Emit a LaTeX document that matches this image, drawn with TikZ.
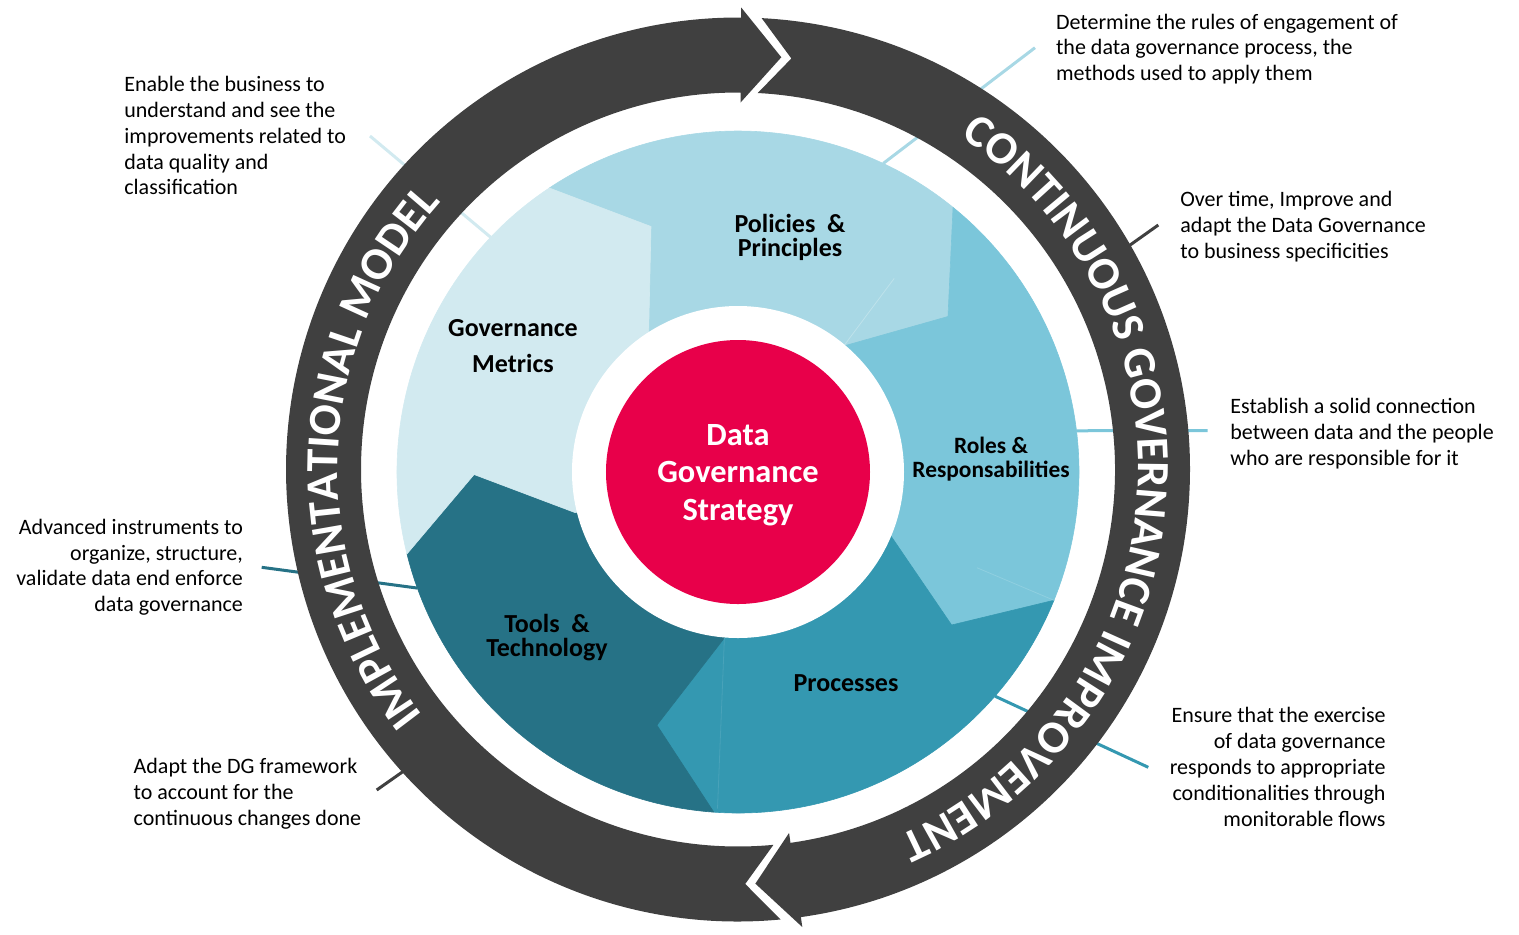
\documentclass[tikz,border=0pt]{standalone}
\usepackage{fontspec}
\setmainfont{Carlito}
\usetikzlibrary{decorations.text}
\definecolor{ringgray}{HTML}{404040}
\definecolor{polcol}{HTML}{A8D8E5}
\definecolor{metcol}{HTML}{D2EAF0}
\definecolor{rolcol}{HTML}{7BC6DA}
\definecolor{procol}{HTML}{3498B1}
\definecolor{toolcol}{HTML}{267286}
\definecolor{dgred}{HTML}{E8004A}
\newcommand\ringfont{\bfseries\fontsize{23}{23}\selectfont}
\begin{document}
\begin{tikzpicture}[x=0.5pt,y=0.5pt,
  seglabel/.style={font=\bfseries\fontsize{13}{12}\selectfont, align=center, text=black, inner sep=0pt},
  desc/.style={font=\fontsize{11}{12.9}\selectfont, inner sep=0pt, text=black},
  conn/.style={line width=1.5pt},
  seam/.style={line width=0.4pt},
  ringtext/.style={decorate, decoration={text along path, text align=center, text color=white, text={|\ringfont|#1}}}
]
\useasboundingbox (-738,-462) rectangle (781,472);

% ---------- description texts (anchored at last baseline) ----------
\node[desc, anchor=base west, align=left] (dPol) at (317.7,391.3) {Determine the rules of engagement of\\the data governance process, the\\methods used to apply them};
\node[desc, anchor=base west, align=left] (dMet) at (-614,277.1) {Enable the business to\\understand and see the\\improvements related to\\data quality and\\classification};
\node[desc, anchor=base west, align=left] (dOver) at (442,213.7) {Over time, Improve and\\adapt the Data Governance\\to business specificities};
\node[desc, anchor=base west, align=left] (dRol) at (492,7) {Establish a solid connection\\between data and the people\\who are responsible for it};
\node[desc, anchor=base east, align=right] (dTool) at (-494.7,-139.7) {Advanced instruments to\\organize, structure,\\validate data end enforce\\data governance};
\node[desc, anchor=base west, align=left] (dAdapt) at (-604.7,-353) {Adapt the DG framework\\to account for the\\continuous changes done};
\node[desc, anchor=base east, align=right] (dPro) at (648,-354) {Ensure that the exercise\\of data governance\\responds to appropriate\\conditionalities through\\monitorable flows};

% ---------- connectors (drawn below pie and ring) ----------
\coordinate (polE) at (64.8:341);   \coordinate (polT) at (297,424.3);
\coordinate (metE) at (136.5:341);  \coordinate (metT) at (-368,336);
\coordinate (rolE) at (6.95:341);   \coordinate (rolT) at (469.7,41.3);
\coordinate (proE) at (-41.1:341);  \coordinate (proT) at (410.3,-295.3);
\coordinate (toolE) at (199.9:341); \coordinate (toolT) at (-476.3,-95.3);
\coordinate (overE) at (378,217);   \coordinate (overT) at (420.3,247);
\coordinate (adaE) at (-325.7,-293); \coordinate (adaT) at (-361.3,-318);
\draw[conn, polcol] (polE) -- (polT);
\draw[conn, metcol] (metE) -- (metT);
\draw[conn, rolcol] (rolE) -- (rolT);
\draw[conn, procol] (proE) -- (proT);
\draw[conn, toolcol] (toolE) -- (toolT);
\draw[conn, ringgray] (overE) -- (overT);
\draw[conn, ringgray] (adaE) -- (adaT);

% ---------- pie segments ----------
\coordinate (b1o) at (123.6:341); \coordinate (b1t) at (-87,245.5);   \coordinate (b1i) at (-89.4,137);
\coordinate (b2o) at (50.9:341);  \coordinate (b2t) at (210,155.5);   \coordinate (b2i) at (105.7,126);
\coordinate (b3o) at (-22.1:341); \coordinate (b3t) at (213.6,-153);  \coordinate (b3i) at (152.6,-63.5);
\coordinate (b4o) at (-94.07:341);\coordinate (b4t) at (-81.1,-253.1);\coordinate (b4i) at (-13.6,-165.9);
\coordinate (b5o) at (193.9:341); \coordinate (b5t) at (-263.9,-2.5); \coordinate (b5i) at (-162.9,-40.6);

\filldraw[polcol, line width=0.3pt] (0,0) -- (b1i) -- (b1t) -- (b1o) arc[start angle=123.6, end angle=50.9, radius=341] -- (b2t) -- (b2i) -- cycle;
\filldraw[rolcol, line width=0.3pt] (0,0) -- (b2i) -- (b2t) -- (b2o) arc[start angle=50.9, end angle=-22.1, radius=341] -- (b3t) -- (b3i) -- cycle;
\filldraw[procol, line width=0.3pt] (0,0) -- (b3i) -- (b3t) -- (b3o) arc[start angle=-22.1, end angle=-94.07, radius=341] -- (b4t) -- (b4i) -- cycle;
\filldraw[toolcol, line width=0.3pt] (0,0) -- (b4i) -- (b4t) -- (b4o) arc[start angle=-94.07, end angle=-166.1, radius=341] -- (b5t) -- (b5i) -- cycle;
\filldraw[metcol, line width=0.3pt] (0,0) -- (b5i) -- (b5t) -- (b5o) arc[start angle=193.9, end angle=123.6, radius=341] -- (b1t) -- (b1i) -- cycle;

% faint seams
\draw[seam, color=polcol!75!white] (b2i) -- (156.2,193.6);
\draw[seam, color=rolcol!85!white] (238.9,-95.7) -- (b3o);
\draw[seam, color=procol!90!white] (b4i) -- (-20.5,-336.7);

% white ring and red core
\fill[white] (0,0) circle[radius=166];
\node[circle, fill=dgred, minimum size=132pt, inner sep=0pt] (core) at (0,0) {};
\node[text=white, align=center, inner sep=0pt,
      font=\bfseries\fontsize{16.2}{18.75}\selectfont] (coretext) at (core.center) [yshift=-1.5pt] {Data\\Governance\\Strategy};

% segment labels
\node[seglabel] (lPol) at (52,235) {Policies\ \ \&\\Principles};
\node[seglabel, font=\bfseries\fontsize{11.7}{12}\selectfont] (lRol) at (253,13) {Roles \&\\Responsabilities};
\node[seglabel] (lPro) at (108,-211) {Processes};
\node[seglabel] (lTool) at (-191,-166) {Tools\ \ \&\\Technology};
\node[seglabel, font=\bfseries\fontsize{13}{18}\selectfont] (lMet) at (-225,126) {Governance\\Metrics};

% ---------- outer ring arrows ----------
\begin{scope}[shift={(0,2.5)}]
\fill[ringgray] (275.4:452) arc[start angle=275.4, end angle=89.6, radius=452] -- (89.6:462) -- (84:414.5) -- (89.6:367) -- (89.6:377) arc[start angle=89.6, end angle=275.4, radius=377] -- (271:414.5) -- cycle;
\fill[ringgray] (87:452) arc[start angle=87, end angle=-82, radius=452] -- (-82:462) -- (-87.6:414.5) -- (-82:367) -- (-82:377) arc[start angle=-82, end angle=87, radius=377] -- (82.6:414.5) -- cycle;
\path[ringtext={IMPLEMENTATIONAL MODEL}] (230:400) arc[start angle=230, end angle=126, radius=400];
\path[ringtext={CONTINUOUS GOVERNANCE IMPROVEMENT}] (80:400) arc[start angle=80, end angle=-90, radius=400];
\end{scope}
\end{tikzpicture}
\end{document}
